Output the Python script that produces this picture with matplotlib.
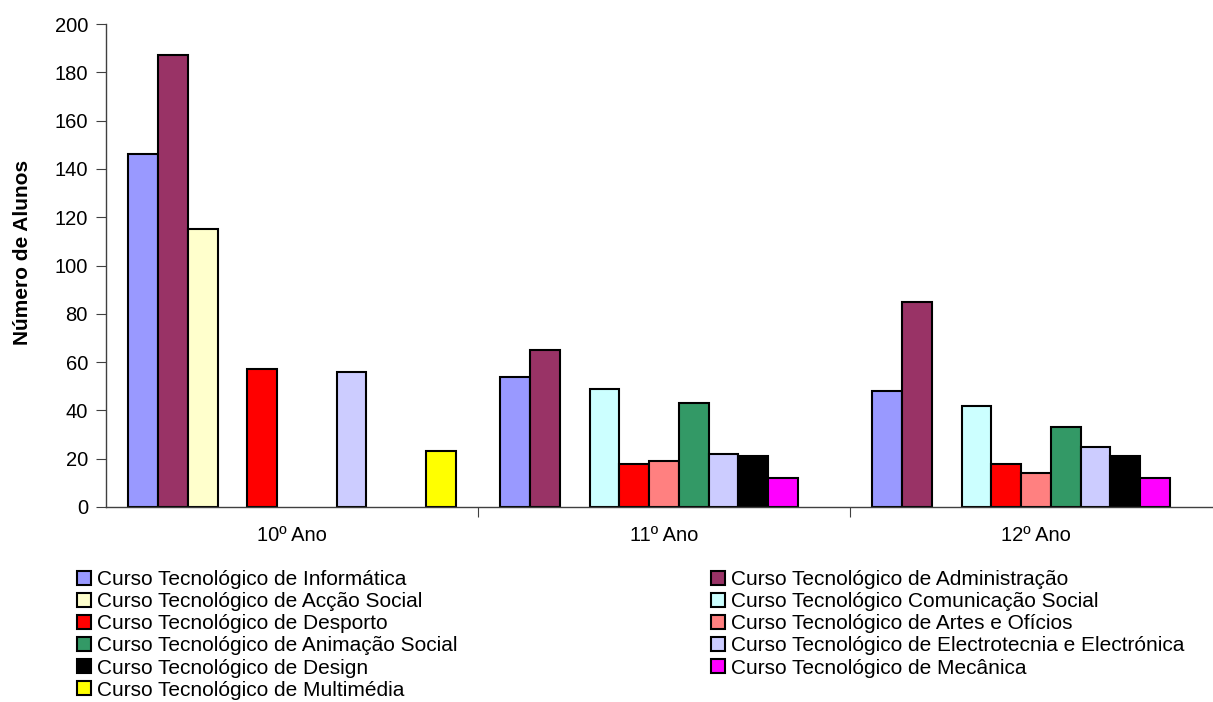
import numpy as np
import matplotlib
matplotlib.use("Agg")
import matplotlib.pyplot as plt

plt.rcParams['font.family'] = ['Liberation Sans', 'DejaVu Sans']

anos = ["10º Ano", "11º Ano", "12º Ano"]

cursos = [
    "Curso Tecnológico de Informática",
    "Curso Tecnológico de Administração",
    "Curso Tecnológico de Acção Social",
    "Curso Tecnológico Comunicação Social",
    "Curso Tecnológico de Desporto",
    "Curso Tecnológico de Artes e Ofícios",
    "Curso Tecnológico de Animação Social",
    "Curso Tecnológico de Electrotecnia e Electrónica",
    "Curso Tecnológico de Design",
    "Curso Tecnológico de Mecânica",
    "Curso Tecnológico de Multimédia",
]

cores = ["#9999FF", "#993366", "#FFFFCC", "#CCFFFF", "#FF0000", "#FF8080",
         "#339966", "#CCCCFF", "#000000", "#FF00FF", "#FFFF00"]

# alunos por curso (10º, 11º, 12º); nan = curso sem turma nesse ano
informatica = [146, 54, 48]
administracao = [187, 65, 85]
accao_social = [115, np.nan, np.nan]
comunicacao = [np.nan, 49, 42]
desporto = [57, 18, 18]
artes_oficios = [np.nan, 19, 14]
animacao = [np.nan, 43, 33]
electrotecnia = [56, 22, 25]
design = [np.nan, 21, 21]
mecanica = [np.nan, 12, 12]
multimedia = [23, np.nan, np.nan]

series = [informatica, administracao, accao_social, comunicacao, desporto,
          artes_oficios, animacao, electrotecnia, design, mecanica, multimedia]

W, H = 1213, 702
fig = plt.figure(figsize=(W / 100, H / 100), dpi=100)
ax = fig.add_axes([106 / W, (H - 507) / H, 1116 / W, (507 - 24) / H])

x = np.arange(len(anos))
n = len(series)
bw = 0.88 / n
handles = []
for i, vals in enumerate(series):
    pos = x - 0.44 + bw * (i + 0.5)
    b = ax.bar(pos, vals, bw, color=cores[i], edgecolor="black",
               linewidth=1.5, label=cursos[i])
    handles.append(b)

ax.set_xlim(-0.5, 2.5)
ax.set_ylim(0, 200)
ax.set_yticks(range(0, 201, 20))
ax.set_xticks([0.5, 1.5])
ax.set_xticklabels([])
ax.set_xticks(x, minor=True)
ax.set_xticklabels(anos, minor=True)
ax.tick_params(axis="x", which="minor", length=0, pad=14, labelsize=14.5)
ax.tick_params(axis="x", which="major", length=7, color="#404040")
ax.tick_params(axis="y", length=7, labelsize=14.5, color="#404040", pad=6)
for s in ["top", "right"]:
    ax.spines[s].set_visible(False)
for s in ["left", "bottom"]:
    ax.spines[s].set_color("#404040")
    ax.spines[s].set_linewidth(1.0)

ax.set_ylabel("Número de Alunos", fontsize=15, fontweight="bold")
ax.yaxis.set_label_coords(-0.066, 0.528)

# legenda em duas colunas, ordenada por linhas como no original
left = [handles[i] for i in range(0, n, 2)]
right = [handles[i] for i in range(1, n, 2)]
leg_kw = dict(loc="upper left", frameon=False, fontsize=15, handlelength=0.67,
              handleheight=0.67, handletextpad=0.28, labelspacing=0.15,
              borderaxespad=0, borderpad=0)
fig.legend(left, [h.get_label() for h in left],
           bbox_to_anchor=(77 / W, 1 - 570 / H), **leg_kw)
fig.legend(right, [h.get_label() for h in right],
           bbox_to_anchor=(711 / W, 1 - 570 / H), **leg_kw)

fig.savefig("out.png", dpi=100)
